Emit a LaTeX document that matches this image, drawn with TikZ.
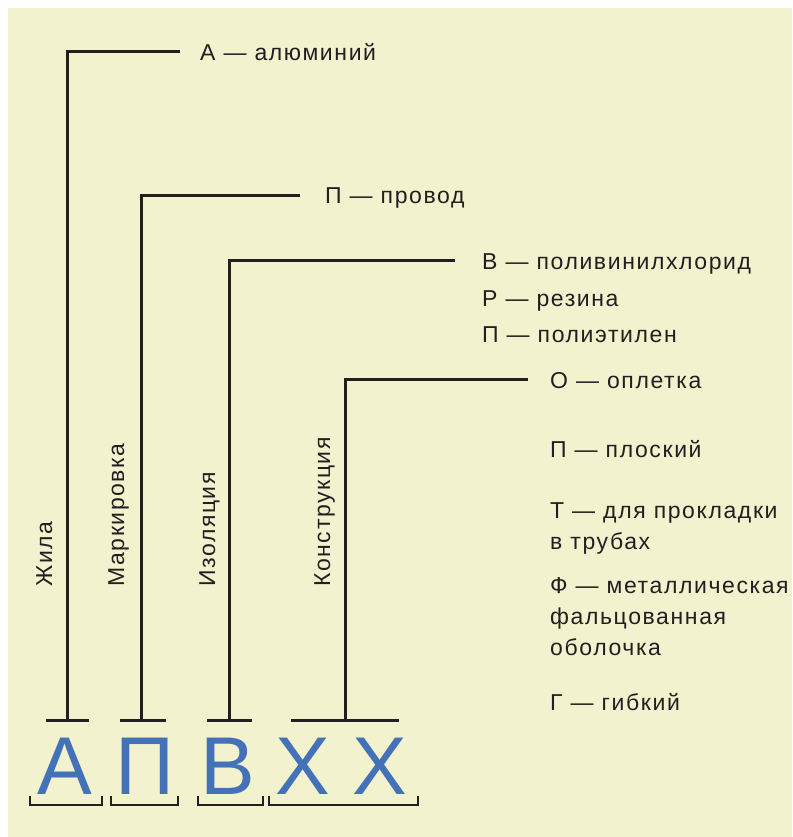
\documentclass[tikz,border=0pt]{standalone}
\usepackage{fontspec}
\setmainfont{Liberation Sans}
\newfontfamily\looseface[LetterSpace=7]{Liberation Sans}
\definecolor{paper}{RGB}{242,242,206}
\definecolor{letterblue}{RGB}{68,114,185}
\definecolor{ink}{RGB}{35,31,32}

\begin{document}
\begin{tikzpicture}[
  x=1pt, y=-1pt,
  lead/.style={draw=ink, line width=3pt},
  brace/.style={draw=ink, line width=2.6pt},
  item/.style={inner sep=0pt, anchor=base west, align=left, text=ink, font=\looseface\fontsize{23}{31}\selectfont},
  part/.style={inner sep=0pt, anchor=base west, rotate=90, text=ink, font=\looseface\fontsize{23}{26}\selectfont},
  letter/.style={inner sep=0pt, anchor=base, text=letterblue, font=\fontsize{82}{82}\selectfont}
]
\useasboundingbox (0,0) rectangle (792,837);
\fill[paper] (8,8) rectangle (792,837);

% brand letters
\node[letter] (lA) at (65,794) {А};
\node[letter] (lP) at (145,794) {П};
\node[letter] (lV) at (228,794) {В};
\node[letter] (lX1) at (303,794) {Х};
\node[letter] (lX2) at (380,794) {Х};

% brackets under the letters
\foreach \a/\b in {30/102, 111/178, 198/263, 269/418}
  \draw[brace] (\a,796) -- (\a,805) -- (\b,805) -- (\b,796);

% tee points above the letters
\coordinate (tA) at (67,720);
\coordinate (tP) at (141,720);
\coordinate (tV) at (229,720);
\coordinate (tX) at (345,720);
\draw[lead] ([xshift=-21pt]tA) -- ([xshift=22pt]tA);
\draw[lead] ([xshift=-21pt]tP) -- ([xshift=25pt]tP);
\draw[lead] ([xshift=-22pt]tV) -- ([xshift=23pt]tV);
\draw[lead] ([xshift=-54pt]tX) -- ([xshift=54pt]tX);

% part names
\node[part] (zhila) at (52,587) {Жила};
\node[part] (mark) at (124,587) {Маркировка};
\node[part] (izol) at (215,587) {Изоляция};
\node[part] (konstr) at (330,587) {Конструкция};

% meanings (multi-line ones sit on their last baseline)
\node[item] (alu) at (200,61) {А — алюминий};
\node[item] (prov) at (325,204) {П — провод};
\node[item] (pvc) at (482,269) {В — поливинилхлорид};
\node[item] (rez) at (482,306) {Р — резина};
\node[item] (pe) at (482,342) {П — полиэтилен};
\node[item] (opl) at (550,388) {О — оплетка};
\node[item] (plosk) at (550,457) {П — плоский};
\node[item] (trub) at (550,549) {Т — для прокладки\\в трубах};
\node[item] (falc) at (550,655) {Ф — металлическая\\фальцованная\\оболочка};
\node[item] (gib) at (550,710) {Г — гибкий};

% leaders
\draw[lead] (tA) |- ([xshift=-20pt,yshift=9pt]alu.base west);
\draw[lead] (tP) |- ([xshift=-25pt,yshift=9pt]prov.base west);
\draw[lead] (tV) |- ([xshift=-27pt,yshift=9pt]pvc.base west);
\draw[lead] (tX) |- ([xshift=-22pt,yshift=9pt]opl.base west);
\end{tikzpicture}
\end{document}
